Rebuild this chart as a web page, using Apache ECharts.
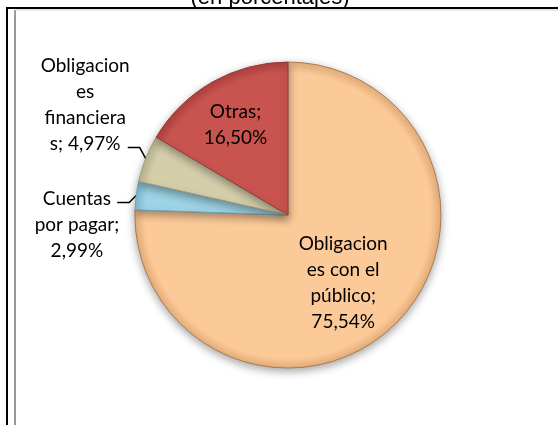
<!DOCTYPE html>
<html>
<head>
<meta charset="utf-8">
<script src="https://cdn.jsdelivr.net/npm/echarts@6/dist/echarts.min.js"></script>
<style>
  html, body { margin: 0; padding: 0; background: #fff; }
  #chart { width: 558px; height: 425px; }
</style>
</head>
<body>
<div id="chart"></div>
<script>
// composición (en porcentajes)
var names = ['Obligaciones con el público', 'Cuentas por pagar', 'Obligaciones financieras', 'Otras'];
var labels = ['Obligacion\nes con el\npúblico;\n75,54%', 'Cuentas\npor pagar;\n2,99%', 'Obligacion\nes\nfinanciera\ns; 4,97%', 'Otras;\n16,50%'];
var values = [75.54, 2.99, 4.97, 16.50];
var colors = ['#FCCA98', '#9DD4E6', '#D5CEAB', '#C9534F'];
var edges = ['#E8B07C', '#7FBCD0', '#BDB590', '#B0413E'];
var borders = ['#A97D55', '#6FA3B5', '#A39C7B', '#943C39'];

var W = 558, H = 425;
var cx = W * 0.516, cy = H * 0.506, R = 153;

var myChart = echarts.init(document.getElementById('chart'));

// label tweaks (inside labels: shift; outside: leader shape)
var insideShift = { 0: [0, 11], 3: [-13, -21] };
var leader = { 1: [-7, 7, -12], 2: [-6, -11, -12] };

function fill(i) {
  return {
    type: 'radial', x: cx, y: cy, r: R, global: true,
    colorStops: [
      { offset: 0, color: colors[i] },
      { offset: 0.93, color: colors[i] },
      { offset: 1, color: edges[i] }
    ]
  };
}

var option = {
  backgroundColor: '#fff',
  animation: false,
  graphic: [
    { type: 'text', x: 270, y: 9,
      style: { text: '(en porcentajes)', font: '22px "Liberation Sans", Arial, sans-serif', fill: '#000', align: 'center', verticalAlign: 'bottom' } },
    { type: 'line', shape: { x1: 6, y1: 8, x2: 558, y2: 8 }, style: { stroke: '#000', lineWidth: 2 } },
    { type: 'line', shape: { x1: 7, y1: 7, x2: 7, y2: 425 }, style: { stroke: '#000', lineWidth: 2 } },
    { type: 'line', shape: { x1: 15, y1: 10, x2: 15, y2: 425 }, style: { stroke: '#9a9a9a', lineWidth: 2 } },
    { type: 'line', shape: { x1: 15, y1: 10, x2: 558, y2: 10 }, style: { stroke: '#d0d0d0', lineWidth: 1 } }
  ],
  series: [{
    type: 'pie',
    center: [cx, cy],
    radius: R,
    startAngle: 90,
    clockwise: true,
    avoidLabelOverlap: false,
    itemStyle: {
      borderWidth: 1,
      shadowBlur: 8,
      shadowOffsetY: 3,
      shadowColor: 'rgba(0,0,0,0.35)'
    },
    label: {
      position: 'outside',
      color: '#000',
      fontFamily: 'Lato, "Open Sans", sans-serif',
      fontSize: 19,
      lineHeight: 26,
      align: 'center',
      formatter: function (p) { return labels[p.dataIndex]; }
    },
    labelLine: {
      show: true,
      length: 8,
      length2: 12,
      lineStyle: { color: '#000', width: 1.5 }
    },
    labelLayout: function (p) {
      var s = insideShift[p.dataIndex];
      if (s) return { dx: s[0], dy: s[1] };
      var l = leader[p.dataIndex];
      var a = p.labelLinePoints[0];
      var b = [a[0] + l[0], a[1] + l[1]];
      var c = [b[0] + l[2], b[1]];
      var w = p.labelRect.width, h = p.labelRect.height;
      var lx = c[0] + 2 - w / 2;
      var ly = p.dataIndex === 2 ? c[1] - h / 2 + 9 : c[1] + h / 2 - 17;
      return {
        x: lx, y: ly, align: 'center', verticalAlign: 'middle',
        labelLinePoints: [a, b, c]
      };
    },
    data: values.map(function (v, i) {
      var d = {
        name: names[i],
        value: v,
        itemStyle: { color: fill(i), borderColor: borders[i] }
      };
      if (insideShift[i]) {
        d.label = { position: 'inside' };
        d.labelLine = { show: false };
      }
      return d;
    })
  }]
};

myChart.setOption(option);
</script>
</body>
</html>
